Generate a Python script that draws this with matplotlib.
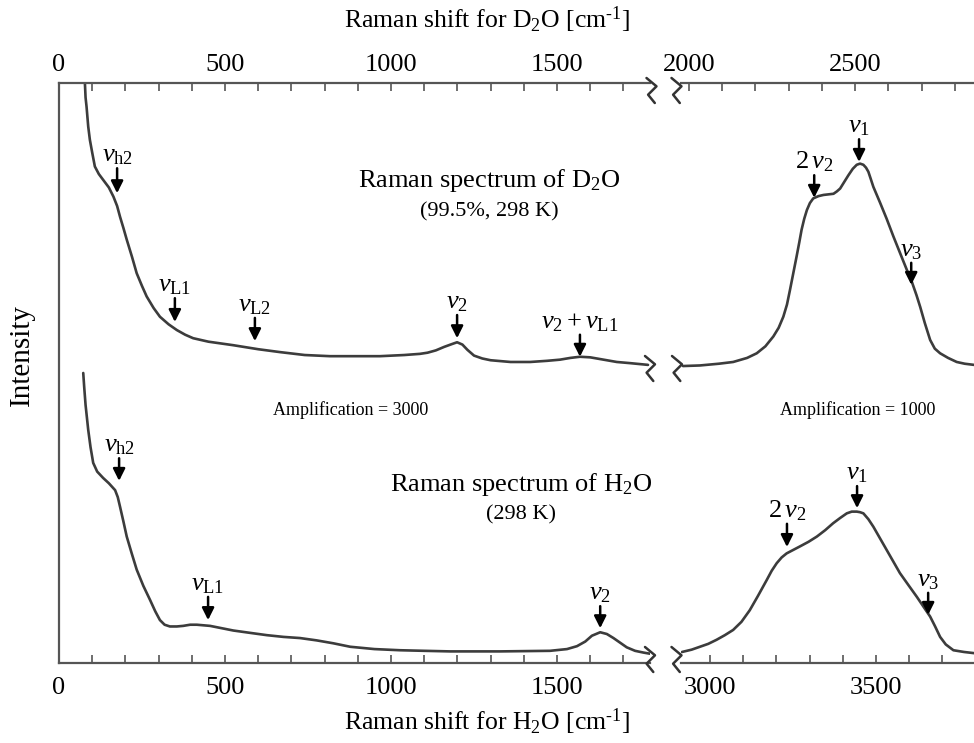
import numpy as np
import matplotlib.pyplot as plt
from matplotlib.ticker import MultipleLocator

plt.rcParams['font.family'] = 'Liberation Serif'
plt.rcParams['mathtext.fontset'] = 'custom'
plt.rcParams['mathtext.rm'] = 'Liberation Serif'
plt.rcParams['mathtext.it'] = 'Liberation Serif:italic'
plt.rcParams['mathtext.bf'] = 'Liberation Serif:bold'

# D2O spectrum (top scale), low-frequency part
d2o_low_x = [78, 80, 83, 88, 93, 100, 108, 120, 133, 150, 164, 175, 184, 194, 204, 220, 234,
             250, 264, 285, 304, 330, 355, 380, 404, 450, 524, 600, 666, 740, 816, 900, 967,
             1040, 1087, 1110, 1135, 1160, 1184, 1199, 1215, 1230, 1250, 1275, 1300, 1360,
             1419, 1470, 1509, 1540, 1569, 1600, 1630, 1680, 1720, 1774]
d2o_low_y = [100, 97.5, 95.9, 92.5, 90.2, 88.0, 85.6, 84.3, 83.3, 82.0, 80.4, 78.8, 76.9,
             75.0, 73.0, 70.0, 67.2, 65.0, 63.2, 61.2, 59.7, 58.4, 57.4, 56.6, 56.0, 55.4,
             54.8, 54.1, 53.6, 53.1, 52.9, 52.9, 52.9, 53.1, 53.3, 53.5, 53.9, 54.5, 55.0,
             55.3, 54.9, 54.0, 53.0, 52.5, 52.2, 51.9, 51.9, 52.1, 52.3, 52.6, 52.8, 52.7,
             52.4, 51.9, 51.7, 51.4]
# D2O spectrum, stretching region
d2o_high_x = [1982, 2033, 2090, 2133, 2175, 2204, 2230, 2254, 2270, 2284, 2295, 2304, 2314,
              2324, 2332, 2339, 2347, 2355, 2364, 2374, 2390, 2405, 2420, 2435, 2445, 2455,
              2468, 2480, 2493, 2505, 2515, 2525, 2533, 2540, 2547, 2555, 2575, 2595, 2615,
              2636, 2655, 2671, 2685, 2696, 2710, 2726, 2740, 2756, 2780, 2806, 2830, 2858]
d2o_high_y = [51.2, 51.3, 51.6, 51.9, 52.6, 53.4, 54.6, 56.3, 57.8, 59.7, 61.8, 64.3, 67.2,
              70.1, 72.5, 74.7, 76.6, 78.1, 79.3, 80.1, 80.5, 80.7, 80.8, 80.9, 81.3, 81.8,
              83.0, 84.1, 85.2, 85.9, 86.1, 85.9, 85.4, 84.7, 83.5, 82.1, 79.4, 76.6, 73.6,
              70.6, 67.9, 65.7, 63.4, 61.4, 58.6, 55.7, 54.2, 53.4, 52.6, 51.9, 51.6, 51.4]

# H2O spectrum (bottom scale), low-frequency part
h2o_low_x = [73, 76, 80, 88, 95, 103, 115, 133, 150, 169, 177, 184, 194, 204, 219, 234, 254,
             274, 290, 304, 318, 334, 355, 374, 395, 415, 435, 455, 490, 525, 575, 626, 676,
             726, 776, 826, 877, 950, 1027, 1100, 1178, 1328, 1479, 1530, 1560, 1585, 1605,
             1630, 1650, 1670, 1690, 1710, 1735, 1760, 1780]
h2o_low_y = [50.0, 47.5, 44.5, 40.2, 37.2, 34.5, 33.0, 31.9, 31.0, 29.8, 28.6, 26.9, 24.4,
             21.8, 18.9, 16.1, 13.3, 10.9, 8.9, 7.4, 6.6, 6.3, 6.3, 6.4, 6.6, 6.6, 6.5, 6.4,
             6.0, 5.6, 5.2, 4.8, 4.5, 4.3, 3.9, 3.4, 2.8, 2.4, 2.2, 2.1, 2.0, 2.0, 2.1, 2.4,
             2.9, 3.7, 4.7, 5.3, 5.0, 4.3, 3.5, 2.7, 2.1, 1.8, 1.6]
# H2O spectrum, stretching region
h2o_high_x = [2916, 2945, 2970, 2995, 3020, 3045, 3070, 3095, 3120, 3145, 3171, 3186, 3201,
              3216, 3231, 3251, 3271, 3297, 3322, 3347, 3371, 3392, 3412, 3427, 3442, 3452,
              3462, 3477, 3492, 3512, 3532, 3552, 3572, 3598, 3623, 3643, 3663, 3678, 3693,
              3710, 3733, 3765, 3795]
h2o_high_y = [1.9, 2.3, 2.8, 3.3, 4.0, 4.8, 5.7, 7.1, 9.1, 11.6, 14.3, 15.9, 17.2, 18.2, 18.9,
              19.5, 20.1, 20.9, 21.8, 22.9, 24.1, 25.0, 25.8, 26.1, 26.1, 26.0, 25.8, 24.8,
              23.5, 21.5, 19.5, 17.5, 15.5, 13.4, 11.4, 9.7, 8.0, 6.3, 4.5, 3.2, 2.2, 1.9, 1.7]

# band markers: label, position, arrow tip, arrow top
d2o_low_bands = [(r'$\nu_{\rm h2}$', 175, 81.0, 85.3),
                 (r'$\nu_{\rm L1}$', 349, 58.8, 62.9),
                 (r'$\nu_{\rm L2}$', 590, 55.5, 59.5),
                 (r'$\nu_2$', 1199, 56.0, 60.0),
                 (r'$\nu_2+\nu_{\rm L1}$', 1569, 52.8, 56.6)]
d2o_high_bands = [(r'$2\,\nu_2$', 2377, 80.2, 84.1),
                  (r'$\nu_1$', 2512, 86.4, 90.3),
                  (r'$\nu_3$', 2669, 65.2, 69.0)]
h2o_low_bands = [(r'$\nu_{\rm h2}$', 181, 31.4, 35.3),
                 (r'$\nu_{\rm L1}$', 449, 7.4, 11.4),
                 (r'$\nu_2$', 1630, 6.0, 9.8)]
h2o_high_bands = [(r'$2\,\nu_2$', 3232, 20.0, 24.0),
                  (r'$\nu_1$', 3443, 26.7, 30.5),
                  (r'$\nu_3$', 3657, 8.3, 12.1)]

W, H = 974, 743
line_c = '#3c3c3c'
axis_c = '#555555'

fig = plt.figure(figsize=(W / 100, H / 100), dpi=100)
y0 = 1 - 663 / H
h = 580 / H
axL = fig.add_axes([59 / W, y0, (650 - 59) / W, h])
axR = fig.add_axes([681 / W, y0, (W - 681) / W, h])
axLt = axL.twiny()
axRt = axR.twiny()

axL.set_xlim(0, 1780)
axLt.set_xlim(0, 1780)
axR.set_xlim(2913, 3795)
axRt.set_xlim(1976, 2858)
for a in (axL, axR):
    a.set_ylim(0, 100)
    a.set_yticks([])

axL.set_xticks([0, 500, 1000, 1500])
axLt.set_xticks([0, 500, 1000, 1500])
axR.set_xticks([3000, 3500])
axRt.set_xticks([2000, 2500])

for a in (axL, axR, axLt, axRt):
    a.xaxis.set_minor_locator(MultipleLocator(100))
    a.tick_params(which='both', direction='in', length=6, width=1.2, color=axis_c,
                  labelsize=19)
    for s in a.spines.values():
        s.set_visible(False)
        s.set_color(axis_c)
        s.set_linewidth(1.6)
for a in (axL, axR):
    a.tick_params(pad=10)
    a.spines['bottom'].set_visible(True)
for a in (axLt, axRt):
    a.tick_params(pad=5)
    a.spines['top'].set_visible(True)
axL.spines['left'].set_visible(True)

for a, xs, ys in [(axLt, d2o_low_x, d2o_low_y), (axRt, d2o_high_x, d2o_high_y),
                  (axL, h2o_low_x, h2o_low_y), (axR, h2o_high_x, h2o_high_y)]:
    a.plot(xs, ys, color=line_c, lw=1.9, solid_joinstyle='round', solid_capstyle='round')


def mark_bands(ax, bands):
    for lab, x, tip, top in bands:
        ax.annotate('', xy=(x, tip), xytext=(x, top),
                    arrowprops=dict(arrowstyle='-|>,head_length=0.6,head_width=0.3',
                                    color='k', lw=1.8, mutation_scale=12,
                                    shrinkA=0, shrinkB=0))
        ax.text(x, top + 0.2, lab, ha='center', va='bottom', fontsize=19)


mark_bands(axLt, d2o_low_bands)
mark_bands(axRt, d2o_high_bands)
mark_bands(axL, h2o_low_bands)
mark_bands(axR, h2o_high_bands)

# overlay in pixel units for the break marks and free text
ov = fig.add_axes([0, 0, 1, 1], facecolor='none')
ov.set_xlim(0, W)
ov.set_ylim(H, 0)
ov.axis('off')

zig_dx = [0, 10, 1.6, 8.3]
zig_dy = [0, 8.3, 16.7, 25]
for bx, by in [(646.5, 78), (671.5, 78), (645, 356), (672, 356), (645, 647), (671.5, 647)]:
    ov.plot([bx + d for d in zig_dx], [by + d for d in zig_dy], color='#333333', lw=1.8,
            solid_joinstyle='round', solid_capstyle='round')

ov.text(487, 20, r'Raman shift for D$_2$O [cm$^{\text{-1}}$]', ha='center', va='center',
        fontsize=18.5)
ov.text(487, 722, r'Raman shift for H$_2$O [cm$^{\text{-1}}$]', ha='center', va='center',
        fontsize=18.5)
ov.text(22, 355, 'Intensity', ha='center', va='center', rotation=90, fontsize=21)

ov.text(489, 180, r'Raman spectrum of D$_2$O', ha='center', va='center', fontsize=19)
ov.text(489, 212, '(99.5%, 298 K)', ha='center', va='center', fontsize=16)
ov.text(521, 484, r'Raman spectrum of H$_2$O', ha='center', va='center', fontsize=19)
ov.text(521, 515, '(298 K)', ha='center', va='center', fontsize=16)
ov.text(351, 410, 'Amplification = 3000', ha='center', va='center', fontsize=13)
ov.text(858, 410, 'Amplification = 1000', ha='center', va='center', fontsize=13)

fig.savefig('out.png', dpi=100)
